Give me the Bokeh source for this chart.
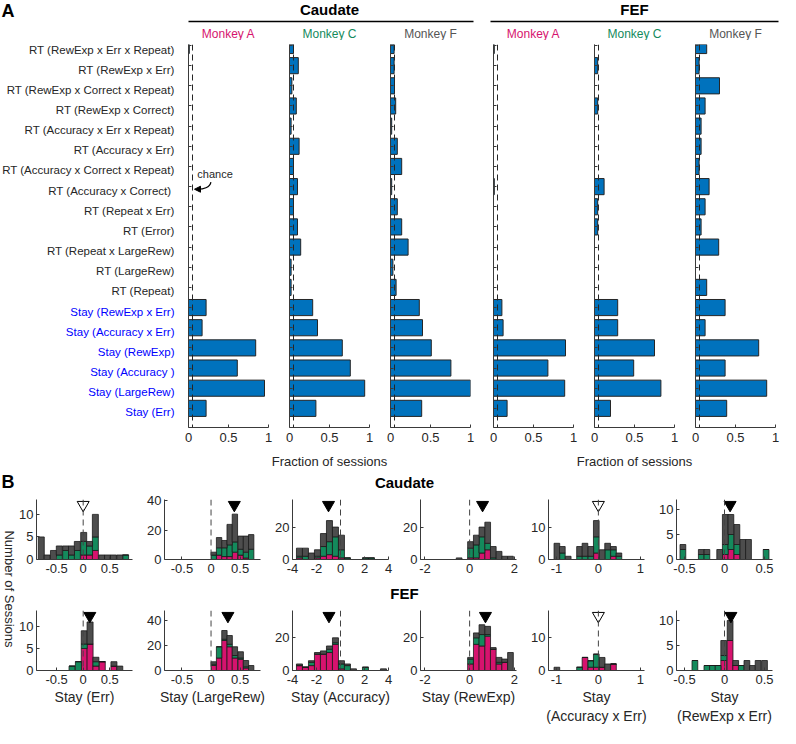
import math
from bokeh.plotting import figure
from bokeh.layouts import column, row
from bokeh.models import Range1d, Span, Label, ColumnDataSource, Arrow, NormalHead
from bokeh.embed import file_html
from bokeh.resources import INLINE
from bokeh.core.properties import value

FONT = "Liberation Sans"
BLUE = "#0072BD"
MAG = "#D6136E"
GRN = "#148A5C"
GRY = "#4D4D4D"
AX = "#3a3a3a"
TXT = "#262626"

# ---------------- Panel A data (rows listed top to bottom) ----------------
row_labels = [
    "RT (RewExp x Err x Repeat)", "RT (RewExp x Err)", "RT (RewExp x Correct x Repeat)",
    "RT (RewExp x Correct)", "RT (Accuracy x Err x Repeat)", "RT (Accuracy x Err)",
    "RT (Accuracy x Correct x Repeat)", "RT (Accuracy x  Correct)", "RT (Repeat x Err)",
    "RT (Error)", "RT (Repeat x LargeRew)", "RT (LargeRew)", "RT (Repeat)",
    "Stay (RewExp x Err)", "Stay (Accuracy x Err)", "Stay (RewExp)", "Stay (Accuracy )",
    "Stay (LargeRew)", "Stay (Err)",
]
caud_A = [0.01, 0, 0, 0, 0, 0, 0, 0, 0, 0, 0, 0, 0, 0.22, 0.17, 0.84, 0.61, 0.95, 0.22]
caud_C = [0.05, 0.11, 0.03, 0.085, 0.02, 0.12, 0.05, 0.10, 0.05, 0.10, 0.14, 0.02, 0.02,
          0.29, 0.35, 0.66, 0.76, 0.94, 0.33]
caud_F = [0.045, 0.045, 0.05, 0.065, 0.015, 0.085, 0.14, 0.015, 0.085, 0.14, 0.22, 0.03, 0.07,
          0.36, 0.40, 0.51, 0.755, 1.0, 0.39]
fef_A = [0.01, 0, 0, 0, 0, 0, 0, 0.01, 0, 0, 0, 0, 0, 0.105, 0.12, 0.90, 0.68, 0.89, 0.17]
fef_C = [0, 0.04, 0, 0.04, 0, 0, 0, 0.12, 0.04, 0.04, 0, 0, 0, 0.29, 0.29, 0.75, 0.49, 0.83, 0.20]
fef_F = [0.14, 0.045, 0.30, 0.12, 0.07, 0.07, 0.045, 0.17, 0.12, 0.07, 0.29, 0, 0.14,
         0.37, 0.12, 0.79, 0.37, 0.89, 0.39]
chance = 0.05
monkeys = ["Monkey A", "Monkey C", "Monkey F"]
monkey_colors = ["#D6136E", "#148A5C", "#555555"]
areas = ["Caudate", "FEF"]
a_xlabel = "Fraction of sessions"

# ---------------- Panel B data ----------------
cau_err_x = [-0.79, -0.68, -0.56, -0.45, -0.33, -0.22, -0.11, 0.01, 0.12, 0.23, 0.35, 0.46, 0.57, 0.69, 0.80]
cau_err_m = [0, 0, 0, 0, 0, 0, 0, 1, 1, 2, 0, 0, 0, 0, 0]
cau_err_g = [0, 0, 0, 1, 2, 1, 2, 3, 2, 3, 0, 0, 0, 0, 1]
cau_err_k = [5, 1, 2, 2, 1, 2, 2, 2, 1, 5, 1, 1, 1, 1, 0]

cau_lr_x = [0.046, 0.138, 0.23, 0.32, 0.41, 0.51, 0.60, 0.69]
cau_lr_m = [0, 3, 2, 2, 5, 3, 1, 0]
cau_lr_g = [3, 5, 6, 8, 7, 4, 4, 7]
cau_lr_k = [2, 7, 5, 14, 19, 9, 11, 10]

cau_acc_x = [-3.42, -2.92, -2.42, -1.92, -1.42, -0.92, -0.42, 0.08, 0.58, 2.08, 2.58]
cau_acc_m = [1, 0, 0, 1, 2, 3, 2, 1, 0, 0, 0]
cau_acc_g = [1, 2, 0, 1, 6, 8, 12, 5, 1, 1, 1]
cau_acc_k = [5, 5, 4, 4, 8, 13, 6, 9, 0, 0, 0]

cau_rew_x = [-0.47, 0.04, 0.30, 0.55, 0.81, 1.06, 1.32, 1.57, 1.83]
cau_rew_m = [0, 1, 1, 4, 6, 0, 0, 0, 0]
cau_rew_g = [0, 6, 8, 10, 4, 1, 0, 0, 0]
cau_rew_k = [1, 4, 6, 6, 13, 7, 5, 2, 2]

cau_accerr_x = [-0.99, -0.86, -0.72, -0.45, -0.32, -0.18, -0.05, 0.09, 0.22, 0.36, 0.49]
cau_accerr_m = [0, 0, 0, 0, 0, 0, 2, 0, 0, 1, 0]
cau_accerr_g = [0, 2, 0, 1, 1, 1, 5, 0, 3, 2, 1]
cau_accerr_k = [5, 2, 1, 3, 4, 3, 5, 3, 2, 1, 1]

cau_rewerr_x = [-0.52, -0.29, -0.22, -0.06, 0.01, 0.08, 0.155, 0.23, 0.30, 0.52]
cau_rewerr_m = [0, 0, 0, 0, 1, 2, 1, 0, 0, 0]
cau_rewerr_g = [2, 1, 1, 0, 2, 3, 2, 0, 0, 2]
cau_rewerr_k = [1, 1, 1, 2, 6, 4, 4, 4, 4, 0]

fef_err_x = [-0.21, -0.09, 0.02, 0.13, 0.24, 0.36, 0.58, 0.69]
fef_err_m = [0, 0, 5, 6, 1, 2, 1, 0]
fef_err_g = [1, 2, 1, 0, 1, 0, 0, 0]
fef_err_k = [0, 0, 3, 5, 1, 0, 1, 1]

fef_lr_x = [0.046, 0.138, 0.23, 0.32, 0.41, 0.51, 0.60, 0.69]
fef_lr_m = [4, 10, 24, 19, 10, 9, 2, 0]
fef_lr_g = [1, 9, 1, 2, 2, 1, 1, 0]
fef_lr_k = [2, 0, 7, 7, 7, 5, 5, 4]

fef_acc_x = [-3.42, -2.92, -2.42, -1.92, -1.42, -0.92, -0.42, 0.08, 0.58, 1.08, 2.08, 3.58]
fef_acc_m = [3, 2, 3, 10, 10, 11, 16, 1, 0, 0, 0, 0]
fef_acc_g = [0, 0, 2, 0, 0, 2, 1, 3, 3, 0, 2, 0]
fef_acc_k = [1, 0, 1, 1, 2, 2, 3, 2, 1, 1, 0, 1]

fef_rew_x = [0.04, 0.30, 0.55, 0.81, 1.06, 1.32, 1.57, 1.83]
fef_rew_m = [4, 16, 15, 21, 13, 4, 5, 0]
fef_rew_g = [3, 4, 7, 1, 0, 1, 0, 0]
fef_rew_k = [1, 3, 6, 5, 1, 3, 2, 11]

fef_accerr_x = [-0.99, -0.45, -0.32, -0.18, -0.05, 0.09, 0.22, 0.36]
fef_accerr_m = [0, 0, 4, 1, 1, 1, 0, 2]
fef_accerr_g = [0, 1, 0, 2, 4, 0, 0, 0]
fef_accerr_k = [1, 0, 0, 0, 0, 3, 2, 0]

fef_rewerr_x = [-0.37, -0.22, -0.15, -0.08, -0.01, 0.07, 0.14, 0.21, 0.28, 0.35, 0.42, 0.50]
fef_rewerr_m = [0, 0, 0, 0, 2, 6, 1, 0, 0, 0, 0, 0]
fef_rewerr_g = [2, 1, 1, 1, 1, 0, 0, 1, 0, 0, 0, 0]
fef_rewerr_k = [0, 0, 0, 0, 3, 4, 1, 0, 2, 1, 2, 2]

bin_widths = [0.113, 0.092, 0.5, 0.255, 0.135, 0.072]
x_limits = [(-0.88, 0.93), (-0.8, 0.85), (-4, 4), (-2.2, 2.1), (-1.19, 1.1), (-0.6, 0.6)]
x_ticks = [[-0.5, 0, 0.5], [-0.5, 0, 0.5], [-4, -2, 0, 2, 4], [-2, 0, 2], [-1, 0, 1], [-0.5, 0, 0.5]]
y_ticks = [[0, 5, 10], [0, 20, 40], [0, 20], [0, 20], [0, 10], [0, 5, 10]]
cau_ylim = [13.3, 41, 37, 37, 18.5, 12]
fef_ylim = [13.6, 48, 36.7, 36.7, 18.4, 12]
cau_mean = [0.0, 0.4, -1.0, 0.58, 0.0, 0.07]
cau_sig = [False, True, True, True, False, True]
fef_mean = [0.125, 0.29, -0.96, 0.71, 0.0, 0.08]
fef_sig = [True, True, True, True, False, True]
hist_xlabels = ["Stay (Err)", "Stay (LargeRew)", "Stay (Accuracy)", "Stay (RewExp)",
                "Stay\n(Accuracy x Err)", "Stay\n(RewExp x Err)"]
b_ylabel = "Number of Sessions"

cau_hists = [(cau_err_x, cau_err_m, cau_err_g, cau_err_k), (cau_lr_x, cau_lr_m, cau_lr_g, cau_lr_k),
             (cau_acc_x, cau_acc_m, cau_acc_g, cau_acc_k), (cau_rew_x, cau_rew_m, cau_rew_g, cau_rew_k),
             (cau_accerr_x, cau_accerr_m, cau_accerr_g, cau_accerr_k),
             (cau_rewerr_x, cau_rewerr_m, cau_rewerr_g, cau_rewerr_k)]
fef_hists = [(fef_err_x, fef_err_m, fef_err_g, fef_err_k), (fef_lr_x, fef_lr_m, fef_lr_g, fef_lr_k),
             (fef_acc_x, fef_acc_m, fef_acc_g, fef_acc_k), (fef_rew_x, fef_rew_m, fef_rew_g, fef_rew_k),
             (fef_accerr_x, fef_accerr_m, fef_accerr_g, fef_accerr_k),
             (fef_rewerr_x, fef_rewerr_m, fef_rewerr_g, fef_rewerr_k)]

# ---------------- layout constants ----------------
W = 780
LAB_W = 177
A_FW, A_FH = 80, 383
A_TOP, A_BOT = 4, 24
A_BL = [11, 11, 11, 13, 11, 11]
A_BR = [10, 10, 10, 10, 10, 5]
B_FW, B_FH = 96, 60
B_BL = [20, 26, 26, 26, 26, 26]
B_BR = [6, 6, 6, 6, 6, 6]
YLAB_W = 16
Y_RANGE = (0.05, 19.05)


def fmt(t):
    return "%g" % t


def style_axis(ax, size):
    ax.major_label_text_font = FONT
    ax.major_label_text_font_size = size
    ax.major_label_text_color = TXT
    ax.axis_line_color = AX
    ax.major_tick_line_color = AX
    ax.major_tick_in = 3
    ax.major_tick_out = 0
    ax.minor_tick_line_color = None
    ax.axis_label_text_font = FONT
    ax.axis_label_text_font_style = "normal"
    ax.axis_label_text_color = TXT


def blank(w, h):
    p = figure(width=w, height=h, x_range=Range1d(0, w), y_range=Range1d(h, 0),
               x_axis_location=None, y_axis_location=None, toolbar_location=None,
               output_backend="svg", min_border=0)
    p.grid.grid_line_color = None
    p.outline_line_color = None
    return p


# frame positions (canvas x) for panel A
a_lefts = []
cur = LAB_W
for bl, br in zip(A_BL, A_BR):
    a_lefts.append(cur + bl)
    cur += bl + A_FW + br
a_centers = [l + A_FW / 2 for l in a_lefts]

# ---------------- header A ----------------
hA = blank(W, 40)
hA.text(x=[1], y=[10], text=["A"], text_font=value(FONT), text_font_size="18px",
        text_font_style="bold", text_align="left", text_baseline="middle", text_color="black")
hA.text(x=[a_centers[1], a_centers[4]], y=[9, 9], text=areas, text_font=value(FONT),
        text_font_size="15px", text_font_style="bold", text_align="center",
        text_baseline="middle", text_color="black")
hA.segment(x0=[a_lefts[0], a_lefts[3] - 3], y0=[21, 21],
           x1=[a_lefts[2] + A_FW + 3, a_lefts[5] + A_FW + 3], y1=[21, 21],
           line_color="black", line_width=1.5)
hA.text(x=a_centers, y=[33] * 6, text=monkeys * 2, text_color=monkey_colors * 2,
        text_font=value(FONT), text_font_size="12px", text_align="center", text_baseline="middle")

# ---------------- row-label figure (same vertical scale as the bar panels) ----------------
ys = [19 - i for i in range(19)]
ppu = A_FH / (Y_RANGE[1] - Y_RANGE[0])
lab = figure(frame_width=LAB_W, frame_height=A_TOP + A_FH + A_BOT, min_border=0,
             x_range=Range1d(0, LAB_W),
             y_range=Range1d(Y_RANGE[0] - A_BOT / ppu, Y_RANGE[1] + A_TOP / ppu),
             x_axis_location=None, y_axis_location=None,
             toolbar_location=None, output_backend="svg")
lab.grid.grid_line_color = None
lab.outline_line_color = None
lab_cols = [("#0000FF" if l.startswith("Stay") else TXT) for l in row_labels]
lab.text(x=[LAB_W - 3] * 19, y=ys, text=row_labels, text_color=lab_cols, text_font=value(FONT),
         text_font_size="11.5px", text_align="right", text_baseline="middle")


# ---------------- panel A figures ----------------
def bar_fig(vals, i, chance_note=False):
    p = figure(frame_width=A_FW, frame_height=A_FH, min_border_left=A_BL[i], min_border_right=A_BR[i],
               min_border_top=A_TOP, min_border_bottom=A_BOT, x_range=Range1d(0, 1),
               y_range=Range1d(*Y_RANGE), toolbar_location=None, output_backend="svg")
    p.grid.grid_line_color = None
    p.outline_line_color = None
    p.hbar(y=ys, left=0, right=vals, height=0.8, fill_color=BLUE, line_color="#262626", line_width=1)
    p.add_layout(Span(location=chance, dimension="height", line_color="#262626",
                      line_dash="6 4", line_width=1))
    xa = p.xaxis[0]
    style_axis(xa, "13px")
    xa.ticker = [0, 0.5, 1]
    xa.major_label_overrides = {0: "0", 0.5: "0.5", 1: "1"}
    xa.major_label_standoff = 5
    ya = p.yaxis[0]
    style_axis(ya, "12px")
    ya.ticker = ys
    ya.major_label_overrides = {y: "" for y in ys}
    if chance_note:
        p.add_layout(Label(x=0.11, y=12.62, text="chance", text_font=FONT, text_font_size="11px",
                           text_color=TXT, text_baseline="middle"))
        p.bezier(x0=[0.28], y0=[12.22], x1=[0.12], y1=[11.87], cx0=[0.27], cy0=[11.95],
                 cx1=[0.18], cy1=[11.87], line_color="black", line_width=1.2)
        p.add_layout(Arrow(end=NormalHead(size=6, fill_color="black", line_color="black"),
                           x_start=0.13, y_start=11.87, x_end=0.075, y_end=11.87,
                           line_color="black", line_width=1.2))
    return p


figsA = [
    bar_fig(caud_A, 0, chance_note=True),
    bar_fig(caud_C, 1),
    bar_fig(caud_F, 2),
    bar_fig(fef_A, 3),
    bar_fig(fef_C, 4),
    bar_fig(fef_F, 5),
]

# x-axis title strip for panel A
sA = blank(W, 20)
sA.text(x=[a_centers[1], a_centers[4]], y=[10, 10], text=[a_xlabel, a_xlabel], text_font=value(FONT),
        text_font_size="13px", text_align="center", text_baseline="middle", text_color=TXT)

# ---------------- panel B ----------------
b_lefts = []
cur = YLAB_W
for bl, br in zip(B_BL, B_BR):
    b_lefts.append(cur + bl)
    cur += bl + B_FW + br
b_center = (b_lefts[0] + b_lefts[-1] + B_FW) / 2

hB1 = blank(W, 20)
hB1.text(x=[1], y=[10], text=["B"], text_font=value(FONT), text_font_size="18px",
         text_font_style="bold", text_align="left", text_baseline="middle", text_color="black")
hB1.text(x=[b_center], y=[11], text=[areas[0]], text_font=value(FONT), text_font_size="15px",
         text_font_style="bold", text_align="center", text_baseline="middle", text_color="black")

hB2 = blank(W - YLAB_W, 21)
hB2.text(x=[b_center - YLAB_W], y=[12], text=[areas[1]], text_font=value(FONT), text_font_size="15px",
         text_font_style="bold", text_align="center", text_baseline="middle", text_color="black")


def hist_fig(data, j, ylim, mean, sig, bottom, xlabel):
    xs, m, g, k = data
    p = figure(frame_width=B_FW, frame_height=B_FH, min_border_left=B_BL[j], min_border_right=B_BR[j],
               min_border_top=8, min_border_bottom=bottom, x_range=Range1d(*x_limits[j]),
               y_range=Range1d(0, ylim), toolbar_location=None, output_backend="svg")
    p.grid.grid_line_color = None
    p.outline_line_color = None
    src = ColumnDataSource(dict(x=xs, m=m, g=g, k=k))
    p.vbar_stack(["m", "g", "k"], x="x", width=bin_widths[j], source=src,
                 fill_color=[MAG, GRN, GRY], line_color="#1a1a1a", line_width=0.8)
    p.add_layout(Span(location=0, dimension="height", line_color="#444444",
                      line_dash="6 4", line_width=1))
    p.scatter(x=[mean], y=[ylim * 0.91], marker="inverted_triangle", size=12,
              fill_color="black" if sig else "white", line_color="black", line_width=1)
    xa = p.xaxis[0]
    style_axis(xa, "13px")
    xa.ticker = x_ticks[j]
    xa.major_label_overrides = {t: fmt(t) for t in x_ticks[j]}
    xa.major_label_standoff = 4
    if xlabel:
        xa.axis_label = xlabel
        xa.axis_label_text_font_size = "14px"
        xa.axis_label_standoff = 2
    ya = p.yaxis[0]
    style_axis(ya, "13px")
    ya.ticker = y_ticks[j]
    ya.major_label_overrides = {t: fmt(t) for t in y_ticks[j]}
    ya.major_label_standoff = 3
    return p


row1 = [hist_fig(cau_hists[j], j, cau_ylim[j], cau_mean[j], cau_sig[j], 22, None) for j in range(6)]
row2 = [hist_fig(fef_hists[j], j, fef_ylim[j], fef_mean[j], fef_sig[j], 57, hist_xlabels[j]) for j in range(6)]

HB = 90 + 21 + 125
ylab = blank(YLAB_W, HB)
ylab.text(x=[YLAB_W / 2 + 1], y=[(8 + 90 + 21 + 8 + 60) / 2 + 4], text=[b_ylabel], angle=[-math.pi / 2],
          text_font=value(FONT), text_font_size="13px", text_align="center",
          text_baseline="middle", text_color=TXT)

layout = column(hA, row(lab, *figsA), sA, hB1,
                row(ylab, column(row(*row1), hB2, row(*row2))))

open("out.html", "w").write(file_html(layout, INLINE))
